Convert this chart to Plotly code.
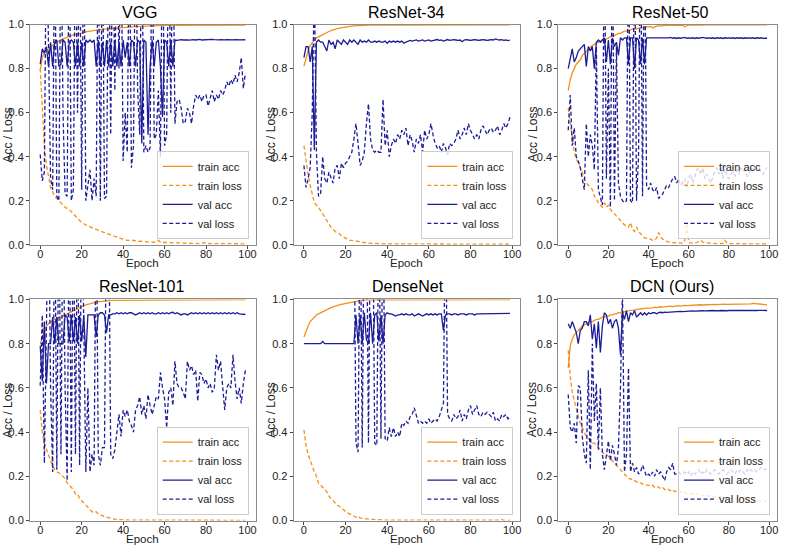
import plotly.graph_objects as go

epochs = list(range(100))
titles = ["VGG", "ResNet-34", "ResNet-50", "ResNet-101", "DenseNet", "DCN (Ours)"]
legend_names = ["train acc", "train loss", "val acc", "val loss"]
x_ticks = [0, 20, 40, 60, 80, 100]
y_ticks = [0.0, 0.2, 0.4, 0.6, 0.8, 1.0]

# ---------------- VGG ----------------
vgg_train_acc = [
    0.79, 0.85, 0.87, 0.88, 0.89, 0.90, 0.91, 0.915, 0.92, 0.925,
    0.93, 0.935, 0.94, 0.943, 0.946, 0.95, 0.952, 0.955, 0.957, 0.96,
    0.962, 0.965, 0.967, 0.969, 0.97, 0.972, 0.974, 0.975, 0.976, 0.977,
    0.978, 0.979, 0.98, 0.981, 0.982, 0.983, 0.984, 0.985, 0.985, 0.986,
    0.987, 0.988, 0.988, 0.989, 0.99, 0.99, 0.991, 0.991, 0.992, 0.992,
    0.993, 0.993, 0.994, 0.994, 0.994, 0.995, 0.995, 0.995, 0.996, 0.996,
    0.996, 0.996, 0.997, 0.997, 0.997, 0.997, 0.997, 0.998, 0.998, 0.998,
    0.998, 0.998, 0.998, 0.998, 0.998, 0.999, 0.998, 0.999, 0.999, 0.998,
    0.999, 0.999, 0.999, 0.999, 0.999, 0.999, 0.999, 0.999, 0.999, 0.999,
    0.999, 0.999, 0.999, 0.999, 0.999, 0.999, 0.999, 0.999, 0.999, 0.998]
vgg_train_loss = [
    0.80, 0.60, 0.45, 0.36, 0.30, 0.26, 0.24, 0.22, 0.21, 0.20,
    0.19, 0.18, 0.17, 0.165, 0.16, 0.15, 0.14, 0.13, 0.12, 0.11,
    0.10, 0.095, 0.09, 0.085, 0.08, 0.075, 0.072, 0.07, 0.065, 0.06,
    0.058, 0.055, 0.05, 0.048, 0.045, 0.04, 0.038, 0.035, 0.03, 0.028,
    0.025, 0.022, 0.02, 0.02, 0.018, 0.02, 0.017, 0.015, 0.016, 0.015,
    0.014, 0.013, 0.014, 0.012, 0.012, 0.011, 0.012, 0.02, 0.012, 0.01,
    0.01, 0.01, 0.009, 0.009, 0.009, 0.008, 0.008, 0.008, 0.007, 0.007,
    0.007, 0.007, 0.006, 0.006, 0.006, 0.006, 0.005, 0.005, 0.005, 0.01,
    0.005, 0.005, 0.005, 0.005, 0.005, 0.005, 0.005, 0.004, 0.005, 0.004,
    0.004, 0.004, 0.004, 0.004, 0.004, 0.004, 0.004, 0.004, 0.004, 0.004]
vgg_val_acc = [
    0.82, 0.89, 0.87, 0.90, 0.81, 0.92, 0.81, 0.92, 0.93, 0.81,
    0.82, 0.93, 0.92, 0.81, 0.92, 0.93, 0.92, 0.81, 0.92, 0.81,
    0.92, 0.81, 0.93, 0.92, 0.93, 0.92, 0.93, 0.81, 0.93, 0.81,
    0.92, 0.81, 0.93, 0.81, 0.92, 0.81, 0.93, 0.81, 0.92, 0.81,
    0.93, 0.85, 0.92, 0.81, 0.93, 0.92, 0.81, 0.93, 0.92, 0.46,
    0.93, 0.92, 0.50, 0.81, 0.93, 0.81, 0.92, 0.93, 0.81, 0.58,
    0.93, 0.92, 0.81, 0.93, 0.81, 0.93, 0.928, 0.93, 0.932, 0.93,
    0.931, 0.93, 0.929, 0.931, 0.932, 0.93, 0.931, 0.933, 0.93, 0.931,
    0.932, 0.93, 0.931, 0.933, 0.932, 0.93, 0.931, 0.932, 0.93, 0.931,
    0.932, 0.931, 0.93, 0.931, 0.932, 0.931, 0.93, 0.931, 0.932, 0.931]
vgg_val_loss = [
    0.41, 0.29, 0.33, 1.5, 0.90, 0.30, 0.25, 1.5, 0.22, 0.20,
    1.5, 0.60, 0.23, 0.22, 1.5, 0.20, 0.25, 1.5, 0.60, 1.5,
    0.25, 1.5, 0.20, 0.28, 0.34, 0.20, 0.30, 0.22, 1.5, 0.20,
    1.5, 0.21, 0.22, 1.5, 0.50, 1.5, 0.70, 1.5, 0.80, 1.5,
    0.38, 0.60, 0.42, 1.5, 0.35, 0.45, 1.5, 0.70, 0.50, 1.5,
    0.42, 0.45, 0.42, 0.44, 1.5, 0.48, 0.50, 0.70, 0.40, 1.5,
    0.45, 0.50, 1.5, 0.60, 1.5, 0.55, 0.65, 0.66, 0.62, 0.55,
    0.56, 0.62, 0.60, 0.55, 0.63, 0.68, 0.66, 0.68, 0.65, 0.68,
    0.68, 0.63, 0.66, 0.70, 0.65, 0.68, 0.66, 0.70, 0.68, 0.70,
    0.74, 0.72, 0.75, 0.73, 0.77, 0.74, 0.78, 0.85, 0.71, 0.78]

# ---------------- ResNet-34 ----------------
r34_train_acc = [
    0.81, 0.85, 0.88, 0.905, 0.92, 0.93, 0.94, 0.945, 0.95, 0.955,
    0.96, 0.965, 0.97, 0.973, 0.976, 0.98, 0.982, 0.984, 0.986, 0.988,
    0.99, 0.991, 0.992, 0.993, 0.994, 0.995, 0.996, 0.996, 0.997, 0.997,
    0.998, 0.998, 0.998, 0.998, 0.999, 0.999, 0.999, 0.999, 0.999, 0.999,
    0.999, 0.999, 0.999, 0.999, 0.999, 0.999, 0.999, 0.999, 0.999, 0.999,
    0.999, 0.999, 0.999, 0.999, 0.999, 0.999, 0.999, 0.999, 0.999, 0.999,
    0.999, 0.999, 0.999, 0.999, 0.999, 0.999, 0.999, 0.999, 0.999, 0.999,
    0.999, 0.999, 0.999, 0.999, 0.999, 0.999, 0.999, 0.999, 0.999, 0.999,
    0.999, 0.999, 0.999, 0.999, 0.999, 0.999, 0.999, 0.999, 0.999, 0.999,
    0.999, 0.999, 0.999, 0.999, 0.999, 0.999, 0.999, 0.999, 0.999, 0.999]
r34_train_loss = [
    0.45, 0.38, 0.32, 0.27, 0.23, 0.19, 0.18, 0.17, 0.155, 0.14,
    0.12, 0.11, 0.09, 0.08, 0.07, 0.06, 0.055, 0.05, 0.04, 0.035,
    0.03, 0.025, 0.02, 0.02, 0.018, 0.015, 0.013, 0.012, 0.01, 0.009,
    0.008, 0.007, 0.006, 0.006, 0.005, 0.005, 0.004, 0.004, 0.004, 0.004,
    0.003, 0.003, 0.003, 0.003, 0.003, 0.003, 0.003, 0.003, 0.003, 0.003,
    0.002, 0.002, 0.002, 0.002, 0.002, 0.002, 0.002, 0.002, 0.002, 0.002,
    0.002, 0.002, 0.002, 0.002, 0.002, 0.002, 0.002, 0.002, 0.002, 0.002,
    0.002, 0.002, 0.002, 0.002, 0.002, 0.002, 0.002, 0.002, 0.002, 0.002,
    0.002, 0.002, 0.002, 0.002, 0.002, 0.002, 0.002, 0.002, 0.002, 0.002,
    0.002, 0.002, 0.002, 0.002, 0.002, 0.002, 0.002, 0.002, 0.002, 0.002]
r34_val_acc = [
    0.85, 0.90, 0.90, 0.83, 0.90, 0.43, 0.92, 0.93, 0.92, 0.92,
    0.90, 0.88, 0.93, 0.91, 0.92, 0.89, 0.93, 0.92, 0.91, 0.93,
    0.92, 0.91, 0.93, 0.92, 0.93, 0.92, 0.91, 0.93, 0.92, 0.925,
    0.92, 0.93, 0.92, 0.92, 0.925, 0.92, 0.925, 0.92, 0.92, 0.925,
    0.915, 0.925, 0.92, 0.925, 0.92, 0.925, 0.92, 0.925, 0.915, 0.92,
    0.925, 0.928, 0.925, 0.928, 0.93, 0.925, 0.928, 0.93, 0.925, 0.928,
    0.93, 0.925, 0.928, 0.93, 0.932, 0.928, 0.93, 0.925, 0.93, 0.932,
    0.928, 0.93, 0.932, 0.93, 0.928, 0.93, 0.922, 0.93, 0.932, 0.93,
    0.928, 0.93, 0.932, 0.93, 0.928, 0.93, 0.932, 0.93, 0.928, 0.93,
    0.932, 0.93, 0.935, 0.932, 0.93, 0.932, 0.928, 0.93, 0.927, 0.93]
r34_val_loss = [
    0.36, 0.26, 0.30, 0.35, 0.60, 1.20, 0.42, 0.22, 0.23, 0.40,
    0.30, 0.28, 0.33, 0.30, 0.28, 0.35, 0.36, 0.30, 0.37, 0.35,
    0.37, 0.38, 0.40, 0.42, 0.48, 0.55, 0.46, 0.36, 0.38, 0.42,
    0.55, 0.64, 0.48, 0.43, 0.42, 0.43, 0.42, 0.42, 0.66, 0.45,
    0.52, 0.40, 0.45, 0.48, 0.46, 0.50, 0.48, 0.52, 0.50, 0.53,
    0.45, 0.50, 0.47, 0.42, 0.48, 0.46, 0.50, 0.42, 0.52, 0.48,
    0.50, 0.55, 0.50, 0.46, 0.44, 0.45, 0.42, 0.46, 0.44, 0.41,
    0.46, 0.45, 0.46, 0.48, 0.52, 0.48, 0.50, 0.53, 0.50, 0.55,
    0.52, 0.50, 0.48, 0.50, 0.48, 0.52, 0.54, 0.52, 0.50, 0.52,
    0.53, 0.51, 0.52, 0.54, 0.50, 0.52, 0.55, 0.53, 0.55, 0.58]

# ---------------- ResNet-50 ----------------
r50_train_acc = [
    0.70, 0.75, 0.78, 0.80, 0.82, 0.83, 0.84, 0.86, 0.87, 0.88,
    0.89, 0.90, 0.905, 0.91, 0.915, 0.92, 0.925, 0.93, 0.93, 0.935,
    0.94, 0.945, 0.95, 0.95, 0.955, 0.96, 0.96, 0.965, 0.97, 0.97,
    0.975, 0.975, 0.98, 0.98, 0.982, 0.985, 0.985, 0.987, 0.99, 0.99,
    0.99, 0.992, 0.985, 0.99, 0.993, 0.995, 0.993, 0.995, 0.996, 0.996,
    0.997, 0.997, 0.998, 0.997, 0.998, 0.998, 0.997, 0.998, 0.99, 0.996,
    0.998, 0.998, 0.999, 0.998, 0.999, 0.998, 0.997, 0.998, 0.999, 0.999,
    0.999, 0.999, 0.999, 0.999, 0.999, 0.999, 0.999, 0.999, 0.997, 0.999,
    0.999, 0.999, 0.999, 0.999, 0.999, 0.999, 0.999, 0.999, 0.999, 0.999,
    0.999, 0.999, 0.999, 0.999, 0.999, 0.999, 0.999, 0.999, 0.999, 0.999]
r50_train_loss = [
    0.62, 0.55, 0.50, 0.42, 0.39, 0.37, 0.35, 0.33, 0.30, 0.28,
    0.27, 0.26, 0.25, 0.22, 0.21, 0.19, 0.18, 0.17, 0.19, 0.17,
    0.18, 0.16, 0.15, 0.14, 0.13, 0.12, 0.11, 0.10, 0.09, 0.085,
    0.08, 0.10, 0.07, 0.06, 0.08, 0.06, 0.05, 0.04, 0.03, 0.03,
    0.025, 0.025, 0.02, 0.02, 0.03, 0.055, 0.035, 0.025, 0.02, 0.015,
    0.012, 0.01, 0.01, 0.008, 0.008, 0.01, 0.008, 0.006, 0.02, 0.10,
    0.01, 0.008, 0.007, 0.006, 0.01, 0.015, 0.02, 0.012, 0.01, 0.008,
    0.007, 0.006, 0.006, 0.005, 0.005, 0.005, 0.006, 0.005, 0.02, 0.008,
    0.005, 0.005, 0.004, 0.004, 0.004, 0.004, 0.004, 0.004, 0.003, 0.003,
    0.003, 0.003, 0.003, 0.003, 0.003, 0.003, 0.003, 0.003, 0.003, 0.003]
r50_val_acc = [
    0.80, 0.85, 0.89, 0.83, 0.85, 0.88, 0.89, 0.90, 0.91, 0.81,
    0.90, 0.88, 0.90, 0.80, 0.92, 0.93, 0.92, 0.93, 0.94, 0.83,
    0.93, 0.82, 0.94, 0.90, 0.92, 0.86, 0.94, 0.93, 0.94, 0.94,
    0.82, 0.94, 0.94, 0.80, 0.94, 0.93, 0.82, 0.94, 0.82, 0.94,
    0.94, 0.938, 0.94, 0.937, 0.94, 0.938, 0.94, 0.937, 0.94, 0.938,
    0.94, 0.942, 0.938, 0.94, 0.937, 0.94, 0.938, 0.94, 0.942, 0.938,
    0.94, 0.938, 0.94, 0.937, 0.94, 0.938, 0.94, 0.942, 0.94, 0.938,
    0.94, 0.938, 0.94, 0.937, 0.94, 0.938, 0.94, 0.937, 0.94, 0.938,
    0.94, 0.938, 0.94, 0.937, 0.94, 0.938, 0.94, 0.937, 0.94, 0.938,
    0.94, 0.938, 0.94, 0.937, 0.94, 0.938, 0.94, 0.937, 0.938, 0.938]
r50_val_loss = [
    0.52, 0.68, 0.45, 0.53, 0.40, 0.38, 0.35, 0.30, 0.25, 0.55,
    0.40, 0.50, 0.45, 0.34, 0.90, 0.25, 0.22, 0.18, 1.5, 0.30,
    0.80, 0.17, 1.5, 0.20, 0.90, 0.28, 0.22, 0.20, 0.19, 0.20,
    1.5, 0.20, 0.19, 1.5, 0.20, 0.40, 1.5, 0.22, 1.5, 0.27,
    0.25, 0.28, 0.25, 0.24, 0.26, 0.21, 0.22, 0.23, 0.25, 0.27,
    0.26, 0.28, 0.30, 0.31, 0.28, 0.30, 0.27, 0.28, 0.30, 0.26,
    0.30, 0.32, 0.28, 0.31, 0.34, 0.35, 0.32, 0.35, 0.30, 0.32,
    0.30, 0.28, 0.31, 0.33, 0.35, 0.32, 0.35, 0.30, 0.36, 0.31,
    0.30, 0.32, 0.33, 0.31, 0.34, 0.32, 0.35, 0.33, 0.34, 0.31,
    0.32, 0.35, 0.33, 0.36, 0.34, 0.35, 0.33, 0.32, 0.34, 0.35]

# ---------------- ResNet-101 ----------------
r101_train_acc = [
    0.80, 0.83, 0.86, 0.88, 0.89, 0.90, 0.905, 0.91, 0.915, 0.92,
    0.92, 0.925, 0.93, 0.935, 0.94, 0.945, 0.95, 0.955, 0.96, 0.965,
    0.97, 0.972, 0.975, 0.978, 0.98, 0.983, 0.985, 0.987, 0.99, 0.99,
    0.992, 0.993, 0.994, 0.995, 0.996, 0.996, 0.997, 0.997, 0.998, 0.998,
    0.999, 0.999, 0.999, 0.999, 0.999, 0.999, 0.999, 0.999, 0.999, 0.999,
    0.999, 0.999, 0.999, 0.999, 0.999, 0.999, 0.999, 0.999, 0.999, 0.999,
    0.999, 0.999, 0.999, 0.999, 0.999, 0.999, 0.999, 0.999, 0.999, 0.999,
    0.999, 0.999, 0.999, 0.999, 0.999, 0.999, 0.999, 0.999, 0.999, 0.999,
    0.999, 0.999, 0.999, 0.999, 0.999, 0.999, 0.999, 0.999, 0.999, 0.999,
    0.999, 0.999, 0.999, 0.999, 0.999, 0.999, 0.999, 0.999, 0.999, 0.999]
r101_train_loss = [
    0.50, 0.40, 0.35, 0.32, 0.30, 0.27, 0.25, 0.23, 0.22, 0.215,
    0.21, 0.20, 0.19, 0.17, 0.16, 0.15, 0.14, 0.12, 0.12, 0.10,
    0.09, 0.08, 0.07, 0.06, 0.05, 0.04, 0.035, 0.04, 0.03, 0.025,
    0.02, 0.018, 0.015, 0.012, 0.01, 0.008, 0.006, 0.005, 0.004, 0.003,
    0.002, 0.002, 0.002, 0.002, 0.002, 0.002, 0.002, 0.002, 0.002, 0.002,
    0.001, 0.001, 0.001, 0.001, 0.001, 0.001, 0.001, 0.001, 0.001, 0.001,
    0.001, 0.001, 0.001, 0.001, 0.001, 0.001, 0.001, 0.001, 0.001, 0.001,
    0.001, 0.001, 0.001, 0.001, 0.001, 0.001, 0.001, 0.001, 0.001, 0.001,
    0.001, 0.001, 0.001, 0.001, 0.001, 0.001, 0.001, 0.001, 0.001, 0.001,
    0.001, 0.001, 0.001, 0.001, 0.001, 0.001, 0.001, 0.001, 0.001, 0.001]
r101_val_acc = [
    0.79, 0.63, 0.90, 0.62, 0.80, 0.80, 0.92, 0.80, 0.92, 0.80,
    0.80, 0.80, 0.93, 0.92, 0.81, 0.93, 0.81, 0.92, 0.80, 0.93,
    0.81, 0.93, 0.74, 0.93, 0.93, 0.93, 0.93, 0.83, 0.93, 0.94,
    0.94, 0.93, 0.85, 0.93, 0.93, 0.935, 0.935, 0.94, 0.935, 0.94,
    0.935, 0.94, 0.935, 0.94, 0.94, 0.935, 0.93, 0.935, 0.94, 0.935,
    0.94, 0.935, 0.94, 0.935, 0.94, 0.935, 0.935, 0.94, 0.935, 0.94,
    0.935, 0.94, 0.935, 0.94, 0.942, 0.935, 0.94, 0.935, 0.93, 0.935,
    0.935, 0.93, 0.935, 0.94, 0.935, 0.94, 0.935, 0.94, 0.935, 0.94,
    0.935, 0.94, 0.935, 0.94, 0.935, 0.94, 0.935, 0.94, 0.935, 0.94,
    0.935, 0.94, 0.935, 0.94, 0.935, 0.94, 0.935, 0.935, 0.935, 0.932]
r101_val_loss = [
    0.61, 0.93, 0.26, 0.80, 1.5, 0.60, 0.22, 1.5, 0.23, 1.5,
    0.30, 1.5, 0.60, 0.18, 1.5, 0.22, 1.5, 0.30, 1.5, 0.25,
    1.5, 0.90, 0.22, 0.60, 0.22, 0.30, 0.25, 1.5, 0.30, 0.25,
    0.33, 0.33, 1.5, 1.5, 0.30, 0.28, 0.32, 0.40, 0.48, 0.38,
    0.50, 0.47, 0.50, 0.45, 0.43, 0.40, 0.50, 0.52, 0.56, 0.48,
    0.52, 0.46, 0.57, 0.52, 0.48, 0.52, 0.56, 0.55, 0.67, 0.60,
    0.55, 0.42, 0.58, 0.60, 0.52, 0.72, 0.62, 0.60, 0.60, 0.58,
    0.55, 0.72, 0.68, 0.70, 0.66, 0.68, 0.54, 0.67, 0.66, 0.62,
    0.64, 0.60, 0.62, 0.58, 0.60, 0.75, 0.68, 0.72, 0.60, 0.50,
    0.60, 0.62, 0.60, 0.75, 0.63, 0.55, 0.60, 0.53, 0.62, 0.68]

# ---------------- DenseNet ----------------
dn_train_acc = [
    0.83, 0.86, 0.88, 0.90, 0.91, 0.92, 0.93, 0.935, 0.94, 0.945,
    0.95, 0.955, 0.96, 0.963, 0.966, 0.97, 0.973, 0.976, 0.978, 0.98,
    0.983, 0.985, 0.987, 0.99, 0.992, 0.994, 0.995, 0.996, 0.997, 0.998,
    0.998, 0.998, 0.999, 0.999, 0.999, 0.999, 0.999, 0.999, 0.999, 0.999,
    0.999, 0.999, 0.999, 0.999, 0.999, 0.999, 0.999, 0.999, 0.999, 0.999,
    0.999, 0.999, 0.999, 0.999, 0.999, 0.999, 0.999, 0.999, 0.999, 0.999,
    0.999, 0.999, 0.999, 0.999, 0.999, 0.999, 0.999, 0.999, 0.999, 0.999,
    0.999, 0.999, 0.999, 0.999, 0.999, 0.999, 0.999, 0.999, 0.999, 0.999,
    0.999, 0.999, 0.999, 0.999, 0.999, 0.999, 0.999, 0.999, 0.999, 0.999,
    0.999, 0.999, 0.999, 0.999, 0.999, 0.998, 0.999, 0.999, 0.999, 0.999]
dn_train_loss = [
    0.41, 0.34, 0.30, 0.27, 0.25, 0.22, 0.20, 0.17, 0.16, 0.15,
    0.14, 0.13, 0.11, 0.10, 0.09, 0.08, 0.07, 0.065, 0.055, 0.05,
    0.04, 0.035, 0.03, 0.025, 0.02, 0.015, 0.02, 0.012, 0.01, 0.008,
    0.007, 0.006, 0.005, 0.005, 0.004, 0.004, 0.003, 0.003, 0.003, 0.002,
    0.002, 0.002, 0.002, 0.002, 0.002, 0.002, 0.002, 0.002, 0.002, 0.002,
    0.001, 0.001, 0.001, 0.001, 0.001, 0.001, 0.001, 0.001, 0.001, 0.001,
    0.001, 0.001, 0.001, 0.001, 0.001, 0.001, 0.001, 0.001, 0.001, 0.001,
    0.001, 0.001, 0.001, 0.001, 0.001, 0.001, 0.001, 0.001, 0.001, 0.001,
    0.001, 0.001, 0.001, 0.001, 0.001, 0.001, 0.001, 0.001, 0.001, 0.001,
    0.001, 0.001, 0.001, 0.001, 0.002, 0.005, 0.001, 0.001, 0.001, 0.001]
dn_val_acc = [
    0.80, 0.80, 0.80, 0.80, 0.80, 0.80, 0.80, 0.80, 0.80, 0.81,
    0.80, 0.80, 0.80, 0.80, 0.80, 0.80, 0.80, 0.80, 0.80, 0.80,
    0.80, 0.80, 0.80, 0.80, 0.80, 0.93, 0.80, 0.93, 0.80, 0.94,
    0.82, 0.80, 0.94, 0.80, 0.93, 0.94, 0.81, 0.93, 0.80, 0.93,
    0.94, 0.935, 0.935, 0.93, 0.925, 0.93, 0.93, 0.935, 0.93, 0.935,
    0.93, 0.93, 0.935, 0.925, 0.93, 0.935, 0.93, 0.925, 0.93, 0.935,
    0.93, 0.935, 0.93, 0.935, 0.93, 0.935, 0.935, 0.86, 0.93, 0.935,
    0.935, 0.93, 0.935, 0.935, 0.93, 0.935, 0.935, 0.935, 0.93, 0.935,
    0.935, 0.935, 0.93, 0.935, 0.935, 0.935, 0.935, 0.935, 0.935, 0.935,
    0.935, 0.935, 0.937, 0.935, 0.937, 0.935, 0.937, 0.937, 0.937, 0.937]
dn_val_loss = [
    1.5, 1.5, 1.5, 1.5, 1.5, 1.5, 1.5, 1.5, 1.5, 1.5,
    1.5, 1.5, 1.5, 1.5, 1.5, 1.5, 1.5, 1.5, 1.5, 1.5,
    1.5, 1.5, 1.5, 1.5, 1.5, 0.35, 0.31, 1.5, 0.33, 1.5,
    1.5, 0.35, 1.5, 1.5, 0.35, 0.34, 1.5, 0.37, 1.5, 0.37,
    0.36, 0.42, 0.38, 0.42, 0.38, 0.40, 0.38, 0.44, 0.43, 0.45,
    0.44, 0.47, 0.48, 0.51, 0.48, 0.44, 0.45, 0.44, 0.45, 0.44,
    0.46, 0.44, 0.45, 0.46, 0.45, 0.47, 0.50, 0.53, 1.5, 0.48,
    0.46, 0.45, 0.48, 0.46, 0.47, 0.50, 0.45, 0.48, 0.46, 0.50,
    0.52, 0.48, 0.50, 0.52, 0.48, 0.47, 0.49, 0.48, 0.49, 0.48,
    0.47, 0.49, 0.45, 0.46, 0.45, 0.48, 0.47, 0.48, 0.46, 0.47]

# ---------------- DCN (Ours) ----------------
dcn_train_acc = [
    0.69, 0.79, 0.82, 0.84, 0.85, 0.86, 0.87, 0.88, 0.885, 0.89,
    0.895, 0.90, 0.90, 0.905, 0.91, 0.91, 0.915, 0.92, 0.92, 0.925,
    0.925, 0.93, 0.93, 0.935, 0.935, 0.94, 0.94, 0.94, 0.945, 0.945,
    0.95, 0.95, 0.95, 0.952, 0.955, 0.955, 0.955, 0.958, 0.96, 0.96,
    0.96, 0.962, 0.962, 0.965, 0.963, 0.965, 0.967, 0.965, 0.967, 0.968,
    0.968, 0.97, 0.968, 0.97, 0.97, 0.972, 0.97, 0.972, 0.973, 0.972,
    0.973, 0.974, 0.973, 0.975, 0.974, 0.975, 0.976, 0.975, 0.976, 0.977,
    0.976, 0.977, 0.977, 0.978, 0.977, 0.978, 0.977, 0.978, 0.979, 0.978,
    0.978, 0.979, 0.98, 0.979, 0.98, 0.979, 0.98, 0.981, 0.98, 0.98,
    0.981, 0.98, 0.982, 0.981, 0.98, 0.982, 0.981, 0.98, 0.978, 0.976]
dcn_train_loss = [
    0.77, 0.65, 0.58, 0.54, 0.50, 0.47, 0.44, 0.42, 0.40, 0.38,
    0.37, 0.36, 0.35, 0.35, 0.34, 0.33, 0.32, 0.31, 0.30, 0.30,
    0.29, 0.28, 0.27, 0.26, 0.25, 0.24, 0.23, 0.22, 0.21, 0.20,
    0.19, 0.19, 0.18, 0.18, 0.175, 0.17, 0.17, 0.165, 0.165, 0.16,
    0.16, 0.155, 0.16, 0.15, 0.155, 0.15, 0.145, 0.15, 0.14, 0.145,
    0.14, 0.135, 0.14, 0.13, 0.135, 0.13, 0.13, 0.125, 0.13, 0.12,
    0.125, 0.12, 0.12, 0.115, 0.12, 0.115, 0.11, 0.115, 0.11, 0.115,
    0.11, 0.115, 0.11, 0.105, 0.11, 0.105, 0.11, 0.10, 0.105, 0.10,
    0.105, 0.10, 0.105, 0.10, 0.10, 0.095, 0.10, 0.095, 0.10, 0.095,
    0.095, 0.09, 0.095, 0.09, 0.095, 0.09, 0.085, 0.09, 0.085, 0.095]
dcn_val_acc = [
    0.89, 0.87, 0.90, 0.87, 0.85, 0.80, 0.86, 0.87, 0.90, 0.90,
    0.88, 0.93, 0.82, 0.89, 0.78, 0.90, 0.76, 0.88, 0.94, 0.93,
    0.89, 0.91, 0.87, 0.90, 0.91, 0.87, 0.75, 0.94, 0.91, 0.95,
    0.90, 0.94, 0.93, 0.95, 0.92, 0.93, 0.94, 0.93, 0.94, 0.93,
    0.94, 0.935, 0.94, 0.94, 0.935, 0.94, 0.942, 0.94, 0.943, 0.942,
    0.943, 0.944, 0.943, 0.945, 0.944, 0.945, 0.946, 0.945, 0.946, 0.947,
    0.946, 0.947, 0.948, 0.947, 0.948, 0.947, 0.948, 0.949, 0.948, 0.949,
    0.948, 0.949, 0.95, 0.949, 0.948, 0.949, 0.95, 0.949, 0.95, 0.949,
    0.95, 0.949, 0.95, 0.951, 0.95, 0.949, 0.95, 0.951, 0.95, 0.949,
    0.95, 0.951, 0.95, 0.949, 0.95, 0.951, 0.95, 0.95, 0.95, 0.95]
dcn_val_loss = [
    0.57, 0.42, 0.40, 0.44, 0.35, 0.61, 0.60, 0.38, 0.30, 0.26,
    0.68, 0.23, 0.80, 0.45, 0.62, 0.32, 0.60, 0.30, 0.23, 0.30,
    0.36, 0.27, 0.34, 0.30, 0.25, 0.33, 0.60, 1.05, 0.22, 0.30,
    0.69, 0.22, 0.26, 0.22, 0.24, 0.21, 0.22, 0.25, 0.22, 0.20,
    0.21, 0.20, 0.22, 0.20, 0.23, 0.21, 0.22, 0.20, 0.18, 0.22,
    0.24, 0.23, 0.26, 0.21, 0.21, 0.22, 0.21, 0.21, 0.22, 0.21,
    0.22, 0.20, 0.22, 0.21, 0.22, 0.23, 0.21, 0.22, 0.21, 0.23,
    0.22, 0.21, 0.22, 0.23, 0.22, 0.21, 0.22, 0.23, 0.22, 0.21,
    0.22, 0.23, 0.22, 0.21, 0.23, 0.22, 0.23, 0.22, 0.21, 0.23,
    0.22, 0.23, 0.22, 0.23, 0.22, 0.23, 0.24, 0.23, 0.23, 0.24]

series = [
    (vgg_train_acc, vgg_train_loss, vgg_val_acc, vgg_val_loss),
    (r34_train_acc, r34_train_loss, r34_val_acc, r34_val_loss),
    (r50_train_acc, r50_train_loss, r50_val_acc, r50_val_loss),
    (r101_train_acc, r101_train_loss, r101_val_acc, r101_val_loss),
    (dn_train_acc, dn_train_loss, dn_val_acc, dn_val_loss),
    (dcn_train_acc, dcn_train_loss, dcn_val_acc, dcn_val_loss),
]

W, H = 786, 551
ORANGE = "#f39019"
BLUE = "#1c1c96"
FONT = "Liberation Sans, Arial, sans-serif"
FRAME = "#8c8c8c"

# plot-area pixel boxes (left, right) and (top, bottom)
cols_px = [(30, 256), (294, 521), (559, 778)]
rows_px = [(19, 244), (300, 526)]
title_x_px = [140, 407, 671, 142, 409, 673]
title_y_px = [7, 287]
ylabel_x_px = [8, 271, 533]

styles = [
    dict(color=ORANGE, dash="solid"),
    dict(color=ORANGE, dash="4px,2.5px"),
    dict(color=BLUE, dash="solid"),
    dict(color=BLUE, dash="4px,2.5px"),
]

fig = go.Figure()
layout = dict(
    width=W, height=H, margin=dict(l=0, r=0, t=0, b=0),
    paper_bgcolor="white", plot_bgcolor="white",
    font=dict(family=FONT, size=12, color="#222"),
    annotations=[],
)

for i in range(6):
    r, c = divmod(i, 3)
    l, rr = cols_px[c]
    t, b = rows_px[r]
    xd = [l / W, rr / W]
    yd = [1 - b / H, 1 - t / H]
    suf = "" if i == 0 else str(i + 1)
    lg = "legend" if i == 0 else "legend" + str(i + 1)
    for k in range(4):
        fig.add_trace(go.Scatter(
            x=epochs, y=series[i][k], mode="lines", name=legend_names[k],
            line=dict(color=styles[k]["color"], dash=styles[k]["dash"], width=1.3),
            xaxis="x" + suf, yaxis="y" + suf, legend=lg, hoverinfo="skip",
        ))
    layout["xaxis" + suf] = dict(
        domain=xd, anchor="y" + suf, range=[-4.95, 103.95],
        tickmode="array", tickvals=x_ticks, ticktext=[str(v) for v in x_ticks],
        showgrid=False, zeroline=False, showline=True, mirror=True,
        linecolor=FRAME, linewidth=1, ticks="outside", ticklen=3,
        tickcolor="#444", tickfont=dict(size=11, color="#222"),
        ticklabelstandoff=-4,
    )
    layout["yaxis" + suf] = dict(
        domain=yd, anchor="x" + suf, range=[0, 1],
        tickmode="array", tickvals=y_ticks, ticktext=["%.1f" % v for v in y_ticks],
        showgrid=False, zeroline=False, showline=True, mirror=True,
        linecolor=FRAME, linewidth=1, ticks="outside", ticklen=3,
        tickcolor="#444", tickfont=dict(size=11, color="#222"),
    )
    layout[lg] = dict(
        x=(rr - 7) / W, y=1 - (b - 6) / H, xanchor="right", yanchor="bottom",
        bgcolor="rgba(255,255,255,0.8)", bordercolor="#cccccc", borderwidth=1,
        font=dict(size=11, color="#222", family=FONT),
        itemwidth=30, tracegroupgap=0,
    )
    layout["annotations"].append(dict(
        text=titles[i], x=title_x_px[i] / W, y=1 - title_y_px[r] / H,
        xref="paper", yref="paper", showarrow=False,
        font=dict(size=16, color="#000"), xanchor="center", yanchor="middle"))
    layout["annotations"].append(dict(
        text="Epoch", x=(l + rr) / 2 / W, y=1 - (b + 19) / H,
        xref="paper", yref="paper", showarrow=False,
        font=dict(size=11.5, color="#222"), xanchor="center", yanchor="middle"))
    layout["annotations"].append(dict(
        text="Acc / Loss", x=ylabel_x_px[c] / W, y=1 - (t + b) / 2 / H,
        xref="paper", yref="paper", showarrow=False, textangle=-90,
        font=dict(size=12, color="#222"), xanchor="center", yanchor="middle"))

fig.update_layout(**layout)
fig.write_html("out.html", config={"displayModeBar": False},
               post_script="document.body.style.margin='0px';")
